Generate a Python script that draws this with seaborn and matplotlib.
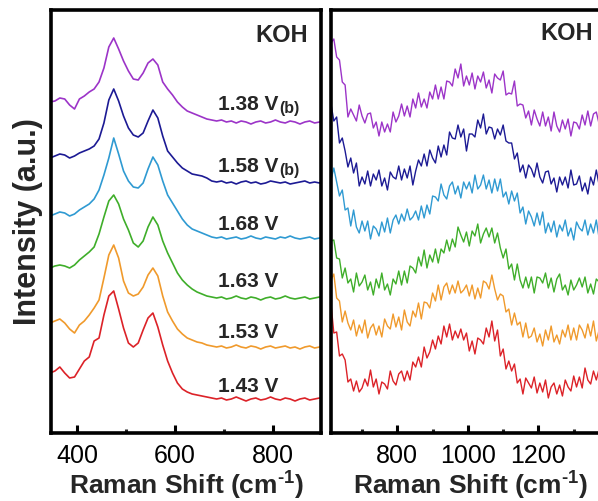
import numpy as np
import pandas as pd
import matplotlib
matplotlib.use("Agg")
import matplotlib.pyplot as plt
import seaborn as sns
from matplotlib.ticker import MultipleLocator

# ---------------- data ----------------
series_names = ["1.43 V", "1.53 V", "1.63 V", "1.68 V", "1.58 V(b)", "1.38 V(b)"]
series_colors = ["#dc2228", "#f09a2c", "#3fae2a", "#2f9ad2", "#1c1a94", "#9c34c8"]

# left panel: shared Raman shift grid (cm-1)
left_x = list(range(345, 906, 10))

left_red = [60, 62, 66, 60, 55, 56, 64, 72, 76, 92, 95, 118, 137, 142, 124, 105, 90, 86, 90, 103,
            115, 120, 106, 88, 72, 60, 50, 44, 41, 39, 38, 37, 36, 35, 34,
            35, 33, 34, 36, 34, 32, 34, 35, 33, 34, 36, 34, 33, 35, 34, 32, 34, 35, 33, 34, 35, 34]
left_orange = [110, 112, 114, 110, 104, 100, 108, 112, 118, 125, 133, 155, 178, 188, 175, 152, 140, 137, 139, 146,
               158, 165, 157, 137, 121, 112, 104, 99, 95, 93, 91, 90, 88, 87, 86,
               87, 85, 86, 88, 86, 85, 87, 86, 84, 86, 87, 85, 86, 87, 85, 86, 84, 86, 87, 85, 86, 87]
left_green = [165, 167, 168, 167, 165, 168, 173, 177, 181, 186, 199, 216, 232, 238, 229, 214, 203, 190, 186, 192,
              206, 216, 208, 192, 180, 170, 160, 153, 148, 144, 141, 139, 137, 136, 135,
              136, 134, 135, 137, 135, 134, 136, 135, 133, 135, 136, 134, 135, 137, 135, 134, 135, 136, 134, 135, 136, 135]
left_cyan = [217, 219, 221, 220, 217, 219, 223, 226, 229, 234, 243, 258, 275, 295, 279, 262, 252, 246, 245, 250,
             264, 276, 268, 252, 238, 230, 222, 214, 208, 204, 202, 200, 198, 196, 195,
             196, 194, 195, 196, 194, 195, 197, 195, 194, 196, 195, 194, 196, 195, 197, 195, 194, 195, 196, 194, 195, 196]
left_blue = [275, 277, 279, 278, 275, 277, 280, 282, 284, 287, 294, 310, 333, 344, 332, 317, 305, 298, 296, 300,
             312, 323, 315, 297, 282, 276, 270, 265, 262, 259, 258, 257, 255, 252, 251,
             252, 250, 251, 249, 251, 252, 250, 251, 249, 250, 252, 251, 250, 251, 249, 250, 251, 252, 250, 251, 250, 251]
left_purple = [331, 332, 335, 334, 328, 324, 334, 337, 341, 344, 351, 365, 386, 395, 384, 372, 362, 354, 353, 360,
               370, 374, 368, 351, 344, 338, 331, 326, 322, 320, 318, 316, 314, 313, 312,
               313, 311, 312, 310, 312, 311, 309, 311, 312, 310, 311, 313, 311, 310, 312, 311, 309, 311, 312, 310, 311, 310]

# right panel: shared Raman shift grid (cm-1), 100 points
right_x = list(range(612, 1405, 8))

right_red = [129, 100, 101, 77, 79, 73, 51, 54, 42, 52,
             41, 45, 54, 47, 63, 46, 54, 39, 51, 49,
             44, 62, 52, 48, 59, 62, 52, 62, 53, 71,
             66, 76, 66, 86, 75, 81, 93, 84, 97, 89,
             107, 96, 109, 93, 102, 95, 104, 93, 100, 82,
             92, 79, 95, 93, 89, 105, 96, 112, 92, 103,
             77, 84, 64, 72, 62, 69, 50, 54, 39, 55,
             50, 45, 56, 40, 50, 41, 53, 35, 46, 50,
             39, 48, 37, 53, 46, 42, 57, 46, 56, 45,
             65, 53, 49, 62, 53, 64, 46, 60, 57, 50]
right_orange = [153, 159, 135, 132, 111, 122, 110, 103, 113, 97,
                108, 100, 113, 95, 105, 109, 98, 107, 96, 114,
                107, 104, 119, 106, 116, 103, 123, 111, 107, 122,
                116, 130, 114, 131, 130, 125, 140, 132, 148, 133,
                146, 150, 139, 148, 140, 152, 140, 143, 148, 137,
                148, 134, 145, 135, 152, 150, 144, 158, 144, 133,
                139, 137, 121, 124, 108, 120, 108, 111, 96, 110,
                95, 97, 105, 91, 99, 87, 103, 93, 107, 91,
                98, 89, 103, 96, 108, 93, 105, 93, 108, 103,
                95, 109, 97, 112, 92, 103, 95, 107, 91, 104]
right_green = [192, 193, 175, 174, 155, 165, 150, 154, 141, 160,
               147, 151, 158, 143, 151, 138, 154, 145, 160, 143,
               149, 138, 154, 149, 162, 148, 162, 150, 167, 165,
               160, 176, 167, 183, 165, 178, 171, 184, 170, 184,
               180, 193, 182, 194, 186, 206, 198, 191, 201, 187,
               202, 197, 209, 190, 199, 205, 196, 205, 190, 200,
               185, 175, 184, 164, 169, 153, 169, 153, 145, 156,
               145, 156, 140, 156, 155, 150, 160, 145, 155, 141,
               154, 159, 143, 148, 138, 153, 143, 148, 155, 146,
               156, 140, 149, 139, 154, 151, 144, 159, 147, 142]
right_cyan = [253, 265, 251, 237, 243, 223, 225, 207, 223, 206,
              200, 212, 202, 212, 194, 207, 204, 197, 211, 201,
              215, 200, 213, 218, 209, 219, 212, 224, 213, 216,
              222, 213, 227, 215, 228, 219, 237, 236, 232, 249,
              238, 234, 247, 251, 239, 247, 235, 251, 244, 251,
              240, 258, 244, 248, 258, 244, 253, 240, 254, 242,
              254, 236, 241, 229, 242, 232, 240, 220, 226, 209,
              222, 216, 207, 220, 208, 221, 200, 210, 201, 212,
              196, 208, 202, 213, 197, 205, 193, 211, 205, 202,
              213, 198, 209, 200, 213, 195, 205, 209, 198, 206]
right_blue = [329, 312, 316, 290, 295, 282, 266, 275, 260, 270,
              247, 256, 249, 262, 247, 259, 253, 263, 247, 255,
              243, 261, 256, 254, 267, 253, 264, 255, 267, 248,
              262, 273, 267, 279, 267, 283, 275, 270, 287, 276,
              288, 278, 301, 295, 294, 308, 296, 304, 282, 299,
              299, 296, 313, 305, 319, 299, 306, 305, 294, 304,
              298, 308, 292, 290, 290, 274, 280, 261, 268, 255,
              268, 264, 256, 270, 256, 250, 261, 262, 249, 255,
              241, 256, 248, 256, 245, 263, 248, 249, 257, 242,
              250, 239, 256, 248, 263, 248, 255, 245, 259, 251]
right_purple = [390, 394, 376, 373, 351, 348, 316, 324, 318, 312,
                328, 317, 310, 319, 320, 305, 311, 297, 311, 301,
                309, 301, 321, 311, 317, 329, 317, 327, 316, 334,
                325, 340, 326, 334, 325, 341, 334, 348, 334, 346,
                334, 352, 351, 347, 364, 355, 369, 347, 357, 348,
                360, 344, 357, 351, 361, 345, 353, 340, 359, 355,
                353, 362, 338, 340, 339, 352, 327, 329, 328, 315,
                322, 308, 323, 314, 307, 321, 307, 316, 302, 321,
                307, 301, 313, 304, 314, 297, 311, 310, 304, 318,
                308, 322, 307, 319, 321, 309, 318, 311, 324, 313]

# label positions (text anchors, data units)
label_main = ["1.43 V", "1.53 V", "1.63 V", "1.68 V", "1.58 V", "1.38 V"]
label_suffix = ["", "", "", "", "(b)", "(b)"]
label_y = [41, 95, 146, 203, 261, 323]

left_xticks = [400, 600, 800]
right_xticks = [800, 1000, 1200]

# ---------------- style ----------------
sns.set_theme(style="white")
plt.rcParams["font.family"] = ["Liberation Sans", "DejaVu Sans"]
plt.rcParams["mathtext.fontset"] = "custom"
plt.rcParams["mathtext.rm"] = "Liberation Sans:bold"
plt.rcParams["mathtext.it"] = "Liberation Sans:bold"
plt.rcParams["mathtext.bf"] = "Liberation Sans:bold"

left_series = [left_red, left_orange, left_green, left_cyan, left_blue, left_purple]
right_series = [right_red, right_orange, right_green, right_cyan, right_blue, right_purple]

rows = []
for name, ys in zip(series_names, left_series):
    for xv, yv in zip(left_x, ys):
        rows.append((name, xv, yv))
df_left = pd.DataFrame(rows, columns=["series", "shift", "intensity"])
rows = []
for name, ys in zip(series_names, right_series):
    for xv, yv in zip(right_x, ys):
        rows.append((name, xv, yv))
df_right = pd.DataFrame(rows, columns=["series", "shift", "intensity"])
palette = dict(zip(series_names, series_colors))

fig = plt.figure(figsize=(5.98, 5.01), dpi=100)
ax1 = fig.add_axes([51 / 598, 68 / 501, 270 / 598, 423 / 501])
ax2 = fig.add_axes([331 / 598, 68 / 501, 278 / 598, 423 / 501])

sns.lineplot(data=df_left, x="shift", y="intensity", hue="series", palette=palette,
             estimator=None, sort=False, legend=False, linewidth=1.2, ax=ax1)
sns.lineplot(data=df_right, x="shift", y="intensity", hue="series", palette=palette,
             estimator=None, sort=False, legend=False, linewidth=1.0, ax=ax2)

ax1.set_xlim(347, 898)
ax2.set_xlim(612, 1400)
for ax in (ax1, ax2):
    ax.set_ylim(0, 423)
    ax.set_yticks([])
    for sp in ax.spines.values():
        sp.set_linewidth(2.6)
        sp.set_color("black")
    ax.tick_params(axis="x", which="major", direction="in", length=6, width=2.2,
                   labelsize=18, pad=8, colors="black", bottom=True, top=False)
    ax.tick_params(axis="x", which="minor", direction="in", length=3, width=2.2,
                   bottom=True, top=False)
    ax.set_xlabel("Raman Shift (cm$^{\u2010 1}$)".replace(" 1", "1"), fontsize=19,
                  fontweight="bold", labelpad=1)
    ax.set_ylabel("")

ax1.set_xticks(left_xticks)
ax1.xaxis.set_minor_locator(MultipleLocator(100))
ax2.set_xticks(right_xticks)
ax2.xaxis.set_minor_locator(MultipleLocator(100))
ax1.set_ylabel("Intensity (a.u.)", fontsize=22, fontweight="bold", labelpad=6)

for txt, suf, yv in zip(label_main, label_suffix, label_y):
    ax1.text(688, yv, txt, fontsize=15, fontweight="bold", ha="left", va="baseline")
    if suf:
        ax1.annotate(suf, xy=(688, yv), xycoords="data", xytext=(44, -2), textcoords="offset points",
                     fontsize=11.5, fontweight="bold", ha="left", va="baseline")

ax1.text(871, 391, "KOH", fontsize=17, fontweight="bold", ha="right", va="baseline")
ax2.text(1356, 393, "KOH", fontsize=17, fontweight="bold", ha="right", va="baseline")

fig.savefig("out.png", dpi=100)
